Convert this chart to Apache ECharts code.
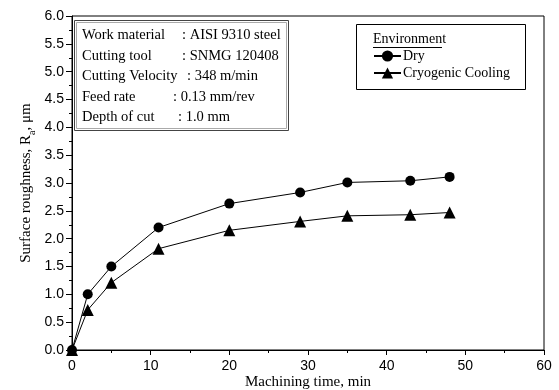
<!DOCTYPE html>
<html><head><meta charset="utf-8">
<script src="https://cdn.jsdelivr.net/npm/echarts@6/dist/echarts.min.js"></script>
<style>html,body{margin:0;padding:0;background:#fff}#c{width:559px;height:390px}</style>
</head><body><div id="c"></div>
<script>
const times = [0, 2, 5, 11, 20, 29, 35, 43, 48];
const dryValues = [0, 1.0, 1.5, 2.2, 2.63, 2.83, 3.01, 3.04, 3.11];
const cryoValues = [0, 0.72, 1.21, 1.82, 2.15, 2.31, 2.41, 2.43, 2.47];
const seriesNames = ['Dry', 'Cryogenic Cooling'];
const infoLabels = ['Work material', 'Cutting tool', 'Cutting Velocity', 'Feed rate', 'Depth of cut'];
const infoValues = [': AISI 9310 steel', ': SNMG 120408', ': 348 m/min', ': 0.13 mm/rev', ': 1.0 mm'];
const infoValueX = [182, 182, 187, 173, 178];

const serif = '"Liberation Serif", "Times New Roman", serif';
const sans = '"Liberation Sans", Arial, sans-serif';
const chart = echarts.init(document.getElementById('c'));

const graphics = [
  { type: 'rect', shape: { x: 74.5, y: 20.5, width: 214, height: 110 }, style: { fill: 'none', stroke: '#444', lineWidth: 1 }, z: 10 },
  { type: 'rect', shape: { x: 76.5, y: 22.5, width: 210, height: 106 }, style: { fill: 'none', stroke: '#aaa', lineWidth: 1 }, z: 10 },
  { type: 'rect', shape: { x: 356.5, y: 24.5, width: 169, height: 65 }, style: { fill: '#fff', stroke: '#000', lineWidth: 1 }, z: 10 },
  { type: 'text', left: 373, top: 32, style: { text: 'Environment', font: '14px ' + serif, fill: '#000' }, z: 11 },
  { type: 'line', shape: { x1: 373, y1: 47.5, x2: 442, y2: 47.5 }, style: { stroke: '#000', lineWidth: 1 }, z: 11 }
];
infoLabels.forEach((t, i) => {
  graphics.push({ type: 'text', left: 82, top: 28 + i * 20.5, style: { text: t, font: '14.5px ' + serif, fill: '#000' }, z: 11 });
  graphics.push({ type: 'text', left: infoValueX[i], top: 28 + i * 20.5, style: { text: infoValues[i], font: '14.5px ' + serif, fill: '#000' }, z: 11 });
});

chart.setOption({
  animation: false,
  backgroundColor: '#fff',
  grid: { left: 72, right: 15, top: 16, bottom: 40, show: true, borderColor: '#000', borderWidth: 1, containLabel: false, outerBoundsMode: 'none' },
  legend: {
    data: seriesNames, orient: 'vertical', left: 373, top: 49, itemGap: 3,
    itemWidth: 27, itemHeight: 14, padding: 0,
    textStyle: { fontFamily: serif, fontSize: 14, color: '#000', padding: [0, 0, 0, -3] },
    z: 12
  },
  xAxis: {
    type: 'value', min: 0, max: 60, interval: 10,
    name: 'Machining time, min', nameLocation: 'middle', nameGap: 25, nameMoveOverlap: false,
    nameTextStyle: { fontFamily: serif, fontSize: 15, color: '#000' },
    axisLine: { lineStyle: { color: '#000' } },
    axisTick: { inside: false, length: 5, lineStyle: { color: '#000' } },
    minorTick: { show: true, splitNumber: 2, length: 3, lineStyle: { color: '#000' } },
    axisLabel: { fontFamily: sans, fontSize: 14, color: '#000', margin: 9 },
    splitLine: { show: false }
  },
  yAxis: {
    type: 'value', min: 0, max: 6, interval: 0.5,
    name: '{n|Surface roughness, R}{s|a}{n|, μm}', nameLocation: 'middle', nameGap: 38, nameMoveOverlap: false,
    nameTextStyle: { rich: { n: { fontFamily: serif, fontSize: 15, color: '#000' }, s: { fontFamily: serif, fontSize: 10, color: '#000', verticalAlign: 'bottom', padding: [0, 0, -3, 0] } } },
    axisLine: { lineStyle: { color: '#000' } },
    axisTick: { inside: false, length: 6, lineStyle: { color: '#000' } },
    minorTick: { show: true, splitNumber: 2, length: 3, lineStyle: { color: '#000' } },
    axisLabel: { fontFamily: sans, fontSize: 14, color: '#000', margin: 8, formatter: v => v.toFixed(1) },
    splitLine: { show: false }
  },
  series: [
    { name: seriesNames[0], type: 'line', data: times.map((t, i) => [t, dryValues[i]]),
      symbol: 'circle', symbolSize: 10, lineStyle: { color: '#000', width: 1 }, itemStyle: { color: '#000' }, clip: false },
    { name: seriesNames[1], type: 'line', data: times.map((t, i) => [t, cryoValues[i]]),
      symbol: 'triangle', symbolSize: 12, lineStyle: { color: '#000', width: 1 }, itemStyle: { color: '#000' }, clip: false }
  ],
  graphic: graphics
});
</script></body></html>
